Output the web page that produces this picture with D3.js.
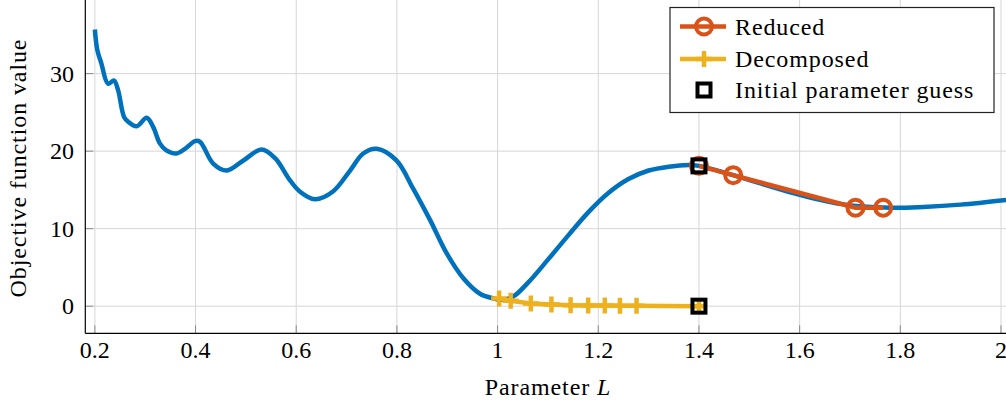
<!DOCTYPE html>
<html>
<head>
<meta charset="utf-8">
<script src="https://cdn.jsdelivr.net/npm/d3@7"></script>
<style>
  html, body { margin: 0; padding: 0; background: #fff; }
  #chart { width: 1006px; height: 408px; }
  text { font-family: "Liberation Serif", "Times New Roman", serif; fill: #000; }
  text.wide { letter-spacing: 0.9px; }
</style>
</head>
<body>
<div id="chart"></div>
<script>
// Objective function sampled over L (blue curve).
const curveL = [0.200, 0.205, 0.213, 0.226, 0.238, 0.246, 0.258, 0.266, 0.283, 0.303, 0.316, 0.329,
  0.342, 0.362, 0.379, 0.399, 0.409, 0.435, 0.462, 0.495, 0.531, 0.558, 0.587, 0.607, 0.637, 0.673,
  0.707, 0.733, 0.760, 0.799, 0.832, 0.866, 0.899, 0.932, 0.965, 0.991, 1.005, 1.030, 1.060, 1.100,
  1.140, 1.180, 1.220, 1.260, 1.300, 1.340, 1.380, 1.400, 1.468, 1.581, 1.680, 1.780, 1.846, 1.920, 2.010];
const curveValue = [35.7, 33.0, 31.3, 28.7, 29.1, 27.9, 24.4, 23.8, 23.2, 24.3, 23.1, 21.0,
  20.1, 19.7, 20.3, 21.3, 21.2, 18.4, 17.5, 18.8, 20.2, 19.1, 16.3, 14.8, 13.8, 14.8,
  17.5, 19.7, 20.3, 18.8, 15.2, 11.1, 6.8, 3.6, 1.6, 1.0, 0.8, 1.2, 3.0, 6.0,
  9.1, 12.1, 14.6, 16.4, 17.5, 18.0, 18.2, 18.1, 16.9, 14.7, 13.2, 12.7, 12.8, 13.1, 13.7];

// Reduced iterations.
const reducedL = [1.400, 1.468, 1.711, 1.766];
const reducedValue = [18.1, 16.9, 12.7, 12.7];

// Decomposed iterations.
const decomposedL = [1.400, 1.276, 1.243, 1.213, 1.180, 1.145, 1.107, 1.066, 1.026, 1.003];
const decomposedValue = [0.0, 0.04, 0.05, 0.09, 0.10, 0.13, 0.22, 0.35, 0.70, 1.00];

// Initial parameter guess.
const guessL = [1.4, 1.4];
const guessValue = [18.1, 0.0];

const xTicks = [0.2, 0.4, 0.6, 0.8, 1, 1.2, 1.4, 1.6, 1.8, 2];
const yTicks = [0, 10, 20, 30];

const blue = "#0072BD", orange = "#D95319", yellow = "#EDB120";

document.addEventListener("DOMContentLoaded", function() {
  const width = 1006, height = 408;
  const margin = { top: 0, left: 85.3, bottom: 333.3 };

  const svg = d3.select("#chart").append("svg")
    .attr("width", width)
    .attr("height", height);

  const x = d3.scaleLinear().domain([0.181, 2.0]).range([margin.left, 1001]);
  const y = d3.scaleLinear().domain([-3.5, 39.5]).range([margin.bottom, margin.top]);

  const zip = (xs, ys) => xs.map((v, i) => ({ x: v, y: ys[i] }));

  // Grid lines.
  svg.append("g").selectAll("line")
    .data(xTicks).enter().append("line")
    .attr("x1", d => x(d)).attr("x2", d => x(d))
    .attr("y1", 0).attr("y2", margin.bottom)
    .attr("stroke", "#d6d6d6").attr("stroke-width", 1);
  svg.append("g").selectAll("line")
    .data(yTicks).enter().append("line")
    .attr("x1", margin.left).attr("x2", width)
    .attr("y1", d => y(d)).attr("y2", d => y(d))
    .attr("stroke", "#d6d6d6").attr("stroke-width", 1);

  // Inner tick marks.
  svg.append("g").selectAll("line")
    .data(xTicks).enter().append("line")
    .attr("x1", d => x(d)).attr("x2", d => x(d))
    .attr("y1", margin.bottom).attr("y2", margin.bottom - 8)
    .attr("stroke", "#8a8a8a").attr("stroke-width", 1);
  svg.append("g").selectAll("line")
    .data(yTicks).enter().append("line")
    .attr("x1", margin.left).attr("x2", margin.left + 8)
    .attr("y1", d => y(d)).attr("y2", d => y(d))
    .attr("stroke", "#8a8a8a").attr("stroke-width", 1);

  // Axis lines.
  svg.append("line")
    .attr("x1", margin.left).attr("x2", margin.left)
    .attr("y1", 0).attr("y2", margin.bottom)
    .attr("stroke", "#000").attr("stroke-width", 1.2);
  svg.append("line")
    .attr("x1", margin.left).attr("x2", width)
    .attr("y1", margin.bottom).attr("y2", margin.bottom)
    .attr("stroke", "#000").attr("stroke-width", 1.2);

  // Tick labels.
  svg.append("g").selectAll("text")
    .data(xTicks).enter().append("text")
    .attr("x", d => x(d)).attr("y", 358)
    .attr("text-anchor", "middle")
    .style("font-size", "24px")
    .text(d => d3.format("~g")(d));
  svg.append("g").selectAll("text")
    .data(yTicks).enter().append("text")
    .attr("x", 74).attr("y", d => y(d))
    .attr("text-anchor", "end")
    .attr("dominant-baseline", "central")
    .style("font-size", "24px")
    .text(d => d);

  // Axis titles.
  const xt = svg.append("text")
    .attr("class", "wide")
    .attr("x", 548).attr("y", 395)
    .attr("text-anchor", "middle")
    .style("font-size", "24px");
  xt.append("tspan").text("Parameter ");
  xt.append("tspan").style("font-style", "italic").text("L");

  svg.append("text")
    .attr("class", "wide")
    .attr("transform", "translate(18,168) rotate(-90)")
    .attr("text-anchor", "middle")
    .attr("dominant-baseline", "central")
    .style("font-size", "24px")
    .text("Objective function value");

  const smooth = d3.line().x(d => x(d.x)).y(d => y(d.y)).curve(d3.curveCatmullRom.alpha(0.5));
  const straight = d3.line().x(d => x(d.x)).y(d => y(d.y));

  // Objective curve.
  svg.append("path")
    .datum(zip(curveL, curveValue))
    .attr("fill", "none")
    .attr("stroke", blue)
    .attr("stroke-width", 4.5)
    .attr("stroke-linejoin", "round")
    .attr("d", smooth);

  // Reduced.
  const reduced = zip(reducedL, reducedValue);
  svg.append("path").datum(reduced)
    .attr("fill", "none").attr("stroke", orange).attr("stroke-width", 4.5)
    .attr("d", straight);
  svg.append("g").selectAll("circle")
    .data(reduced).enter().append("circle")
    .attr("cx", d => x(d.x)).attr("cy", d => y(d.y)).attr("r", 8)
    .attr("fill", "none").attr("stroke", orange).attr("stroke-width", 4);

  // Decomposed.
  const decomposed = zip(decomposedL, decomposedValue);
  svg.append("path").datum(decomposed)
    .attr("fill", "none").attr("stroke", yellow).attr("stroke-width", 4.5)
    .attr("d", straight);
  svg.append("g").selectAll("path")
    .data(decomposed).enter().append("path")
    .attr("transform", d => `translate(${x(d.x)},${y(d.y)})`)
    .attr("d", "M-8,0H8M0,-8V8")
    .attr("stroke", yellow).attr("stroke-width", 4.5);

  // Initial parameter guess.
  svg.append("g").selectAll("rect")
    .data(zip(guessL, guessValue)).enter().append("rect")
    .attr("x", d => x(d.x) - 6.5).attr("y", d => y(d.y) - 6.5)
    .attr("width", 13).attr("height", 13)
    .attr("fill", "none").attr("stroke", "#000").attr("stroke-width", 4);

  // Legend.
  const lg = svg.append("g");
  lg.append("rect")
    .attr("x", 670).attr("y", 7.5).attr("width", 324).attr("height", 105)
    .attr("fill", "#fff").attr("stroke", "#222").attr("stroke-width", 1.2);
  const rows = [26.5, 59, 90];
  // Reduced entry.
  lg.append("line").attr("x1", 680).attr("x2", 726).attr("y1", rows[0]).attr("y2", rows[0])
    .attr("stroke", orange).attr("stroke-width", 4.5);
  lg.append("circle").attr("cx", 704).attr("cy", rows[0]).attr("r", 8)
    .attr("fill", "none").attr("stroke", orange).attr("stroke-width", 4);
  // Decomposed entry.
  lg.append("line").attr("x1", 680).attr("x2", 726).attr("y1", rows[1]).attr("y2", rows[1])
    .attr("stroke", yellow).attr("stroke-width", 4.5);
  lg.append("path").attr("transform", `translate(704,${rows[1]})`)
    .attr("d", "M-8,0H8M0,-8V8")
    .attr("stroke", yellow).attr("stroke-width", 4.5);
  // Guess entry.
  lg.append("rect").attr("x", 704 - 6.5).attr("y", rows[2] - 6.5)
    .attr("width", 13).attr("height", 13)
    .attr("fill", "#fff").attr("stroke", "#000").attr("stroke-width", 4);

  const labels = ["Reduced", "Decomposed", "Initial parameter guess"];
  lg.selectAll("text")
    .data(labels).enter().append("text")
    .attr("class", "wide")
    .attr("x", 735).attr("y", (d, i) => rows[i])
    .attr("dominant-baseline", "central")
    .style("font-size", "24px")
    .text(d => d);
});
</script>
</body>
</html>
